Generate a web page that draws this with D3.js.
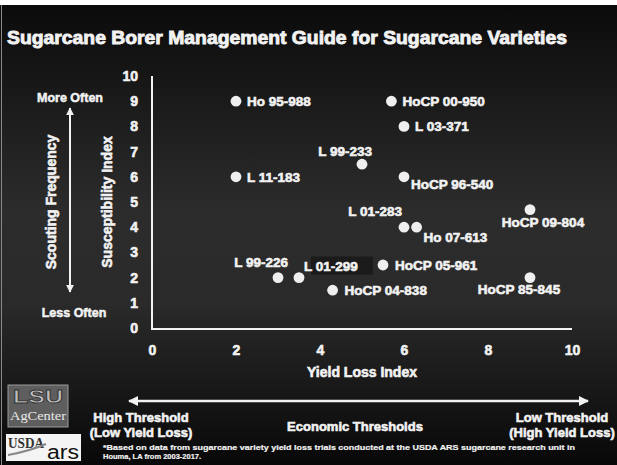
<!DOCTYPE html>
<html>
<head>
<meta charset="utf-8">
<script src="https://cdn.jsdelivr.net/npm/d3@7"></script>
<style>
  body { margin: 0; background: #fff; }
  text { font-family: "Liberation Sans", Arial, sans-serif; font-weight: bold; fill: #f2f2f2; }
</style>
</head>
<body>
<div id="chart"></div>
<script>
// sugarcane varieties, values
var varieties = ["Ho 95-988", "HoCP 00-950", "L 03-371", "L 99-233", "L 11-183", "HoCP 96-540",
                 "L 01-283", "Ho 07-613", "HoCP 09-804", "HoCP 05-961", "HoCP 85-845",
                 "L 99-226", "L 01-299", "HoCP 04-838"];
var yieldLoss      = [2.0, 5.7, 6.0, 5.0, 2.0, 6.0, 6.0, 6.3, 9.0, 5.5, 9.0, 3.0, 3.5, 4.3];
var susceptibility = [9.0, 9.0, 8.0, 6.5, 6.0, 6.0, 4.0, 4.0, 4.7, 2.5, 2.0, 2.0, 2.0, 1.5];
var xTicks = [0, 2, 4, 6, 8, 10];
var yTicks = [0, 1, 2, 3, 4, 5, 6, 7, 8, 9, 10];

// where each label sits next to its dot
var labelPlace = {
  "Ho 95-988":   {dx: 11, dy: 0, anchor: "start"},
  "HoCP 00-950": {dx: 11, dy: 0, anchor: "start"},
  "L 03-371":    {dx: 11, dy: 0, anchor: "start"},
  "L 99-233":    {dx: 10, dy: -13, anchor: "end"},
  "L 11-183":    {dx: 11, dy: 0, anchor: "start"},
  "HoCP 96-540": {dx: 7, dy: 7, anchor: "start"},
  "L 01-283":    {dx: -2, dy: -16, anchor: "end"},
  "Ho 07-613":   {dx: 7, dy: 10, anchor: "start"},
  "HoCP 09-804": {dx: 13, dy: 13, anchor: "middle"},
  "HoCP 05-961": {dx: 12, dy: 0, anchor: "start"},
  "HoCP 85-845": {dx: -11, dy: 12, anchor: "middle"},
  "L 99-226":    {dx: 10, dy: -15, anchor: "end"},
  "L 01-299":    {dx: 5, dy: -11, anchor: "start"},
  "HoCP 04-838": {dx: 12, dy: 0, anchor: "start"}
};

var W = 617, H = 465;
var svg = d3.select("#chart").append("svg")
    .attr("width", W)
    .attr("height", H);

var defs = svg.append("defs");
var grad = defs.append("linearGradient").attr("id", "bg")
    .attr("x1", 0).attr("y1", 0).attr("x2", 0).attr("y2", 1);
grad.append("stop").attr("offset", "0%").attr("stop-color", "#0b0b0b");
grad.append("stop").attr("offset", "45%").attr("stop-color", "#2c2c2c");
grad.append("stop").attr("offset", "65%").attr("stop-color", "#2a2a2a");
grad.append("stop").attr("offset", "100%").attr("stop-color", "#080808");

var mk = defs.append("marker").attr("id", "head")
    .attr("viewBox", "0 0 10 10").attr("refX", 9).attr("refY", 5)
    .attr("markerWidth", 4).attr("markerHeight", 4)
    .attr("orient", "auto-start-reverse").attr("markerUnits", "strokeWidth");
mk.append("path").attr("d", "M0,0 L10,5 L0,10 z").attr("fill", "#f2f2f2");

// panel
svg.append("rect").attr("x", 0).attr("y", 5).attr("width", W).attr("height", H - 5)
    .attr("fill", "url(#bg)");
svg.append("line").attr("x1", 1.5).attr("x2", 1.5).attr("y1", 5).attr("y2", H)
    .attr("stroke", "#8a8a8a").attr("stroke-width", 1);

// title
svg.append("text")
    .attr("x", 7).attr("y", 44)
    .attr("textLength", 560).attr("lengthAdjust", "spacingAndGlyphs")
    .style("font-size", "19px").style("stroke", "#f2f2f2").style("stroke-width", 0.9)
    .text("Sugarcane Borer Management Guide for Sugarcane Varieties");

var x = d3.scaleLinear().domain([0, 10]).range([152, 572]);
var y = d3.scaleLinear().domain([0, 10]).range([328, 76]);

// axes
var gx = svg.append("g")
    .attr("transform", "translate(0,329)")
    .call(d3.axisBottom(x).tickValues(xTicks).tickSize(0).tickSizeOuter(0).tickPadding(16));
var gy = svg.append("g")
    .attr("transform", "translate(152,0)")
    .call(d3.axisLeft(y).tickValues(yTicks).tickSize(0).tickSizeOuter(0).tickPadding(14));
[gx, gy].forEach(function(g) {
  g.select(".domain").attr("stroke", "#f2f2f2").attr("stroke-width", 2);
  g.selectAll("text").attr("fill", "#f2f2f2")
    .style("font-size", "14px").style("font-family", "Liberation Sans, Arial, sans-serif")
    .style("font-weight", "bold").style("stroke", "#f2f2f2").style("stroke-width", 0.6);
});
gx.select(".domain").attr("d", "M151,0H572");
gy.select(".domain").attr("d", "M0,76V330");

// axis titles
svg.append("text")
    .attr("x", 362).attr("y", 377)
    .style("text-anchor", "middle").style("font-size", "14px")
    .style("stroke", "#f2f2f2").style("stroke-width", 0.6)
    .text("Yield Loss Index");
svg.append("text")
    .attr("transform", "translate(112,202) rotate(-90)")
    .style("text-anchor", "middle").style("font-size", "14px")
    .style("stroke", "#f2f2f2").style("stroke-width", 0.6)
    .text("Susceptibility Index");

// scouting frequency side
svg.append("text")
    .attr("transform", "translate(56,202) rotate(-90)")
    .style("text-anchor", "middle").style("font-size", "14px")
    .style("stroke", "#f2f2f2").style("stroke-width", 0.6)
    .text("Scouting Frequency");
svg.append("text").attr("x", 70).attr("y", 102)
    .style("text-anchor", "middle").style("font-size", "12.5px")
    .style("stroke", "#f2f2f2").style("stroke-width", 0.5)
    .text("More Often");
svg.append("text").attr("x", 74).attr("y", 317)
    .style("text-anchor", "middle").style("font-size", "12.5px")
    .style("stroke", "#f2f2f2").style("stroke-width", 0.5)
    .text("Less Often");
svg.append("line")
    .attr("x1", 70).attr("x2", 70).attr("y1", 108).attr("y2", 292)
    .attr("stroke", "#f2f2f2").attr("stroke-width", 2)
    .attr("marker-start", "url(#head)").attr("marker-end", "url(#head)");

// economic thresholds
svg.append("line")
    .attr("x1", 129).attr("x2", 588).attr("y1", 401).attr("y2", 401)
    .attr("stroke", "#f2f2f2").attr("stroke-width", 2.5)
    .attr("marker-start", "url(#head)").attr("marker-end", "url(#head)");
var foot = [
  {t: "High Threshold", x: 141, y: 422, a: "middle"},
  {t: "(Low Yield Loss)", x: 141, y: 437, a: "middle"},
  {t: "Economic Thresholds", x: 355, y: 431, a: "middle"},
  {t: "Low Threshold", x: 562, y: 422, a: "middle"},
  {t: "(High Yield Loss)", x: 562, y: 437, a: "middle"}
];
svg.selectAll(".foot").data(foot).enter().append("text")
    .attr("class", "foot")
    .attr("x", function(d) { return d.x; })
    .attr("y", function(d) { return d.y; })
    .style("text-anchor", function(d) { return d.a; })
    .style("font-size", "13px").style("stroke", "#f2f2f2").style("stroke-width", 0.6)
    .text(function(d) { return d.t; });
svg.append("text").attr("x", 103).attr("y", 450)
    .attr("textLength", 472).attr("lengthAdjust", "spacingAndGlyphs")
    .style("font-size", "7.5px").style("stroke", "#f2f2f2").style("stroke-width", 0.2)
    .text("*Based on data from sugarcane variety yield loss trials conducted at the USDA ARS sugarcane research unit in");
svg.append("text").attr("x", 103).attr("y", 458.5)
    .style("font-size", "7.5px").style("stroke", "#f2f2f2").style("stroke-width", 0.2)
    .text("Houma, LA from 2003-2017.");

// logos (rough)
var lsu = svg.append("g");
lsu.append("rect").attr("x", 8).attr("y", 385).attr("width", 60).attr("height", 42)
    .attr("fill", "#5e5e5e").attr("stroke", "#9a9a9a").attr("stroke-width", 1);
lsu.append("text").attr("x", 38).attr("y", 403).style("text-anchor", "middle")
    .style("font-size", "18px").style("font-family", "Liberation Sans, Arial, sans-serif")
    .style("fill", "#bdbdbd").style("stroke", "#333").style("stroke-width", 0.8)
    .attr("textLength", 50).attr("lengthAdjust", "spacingAndGlyphs").text("LSU");
lsu.append("text").attr("x", 38).attr("y", 420).style("text-anchor", "middle")
    .style("font-size", "12px").style("font-family", "Liberation Serif, serif").style("font-weight", "normal")
    .style("fill", "#e8e8e8").attr("textLength", 56).attr("lengthAdjust", "spacingAndGlyphs").text("AgCenter");
var usda = svg.append("g");
usda.append("rect").attr("x", 6).attr("y", 434).attr("width", 75).attr("height", 27)
    .attr("fill", "#f4f4f4");
usda.append("text").attr("x", 8).attr("y", 448)
    .style("font-size", "14px").style("font-family", "Liberation Serif, serif")
    .style("fill", "#333").attr("textLength", 36).attr("lengthAdjust", "spacingAndGlyphs").text("USDA");
usda.append("text").attr("x", 47).attr("y", 459)
    .style("font-size", "20px").style("font-family", "Liberation Sans, Arial, sans-serif").style("font-weight", "normal")
    .style("fill", "#111").attr("textLength", 32).attr("lengthAdjust", "spacingAndGlyphs").text("ars");
usda.append("path").attr("d", "M8,455 Q30,451 46,444").attr("fill", "none")
    .attr("stroke", "#888").attr("stroke-width", 2);

// shaded box that sits behind "01-299" in the original
var shade = varieties.indexOf("L 01-299");
svg.append("rect")
    .attr("x", x(yieldLoss[shade]) + 12).attr("y", y(susceptibility[shade]) - 21)
    .attr("width", 62).attr("height", 18)
    .attr("fill", "#1b1b1b");

// points
var pts = varieties.map(function(v, i) {
  return {name: v, xl: yieldLoss[i], si: susceptibility[i]};
});
svg.selectAll(".dot").data(pts).enter().append("circle")
    .attr("class", "dot")
    .attr("r", 5.4)
    .attr("cx", function(d) { return x(d.xl); })
    .attr("cy", function(d) { return y(d.si); })
    .attr("fill", "#efefef");
svg.selectAll(".lbl").data(pts).enter().append("text")
    .attr("class", "lbl")
    .attr("x", function(d) { return x(d.xl) + labelPlace[d.name].dx; })
    .attr("y", function(d) { return y(d.si) + labelPlace[d.name].dy; })
    .attr("dy", "0.36em")
    .style("text-anchor", function(d) { return labelPlace[d.name].anchor; })
    .style("font-size", "13.5px").style("stroke", "#f2f2f2").style("stroke-width", 0.6)
    .text(function(d) { return d.name; });
</script>
</body>
</html>
